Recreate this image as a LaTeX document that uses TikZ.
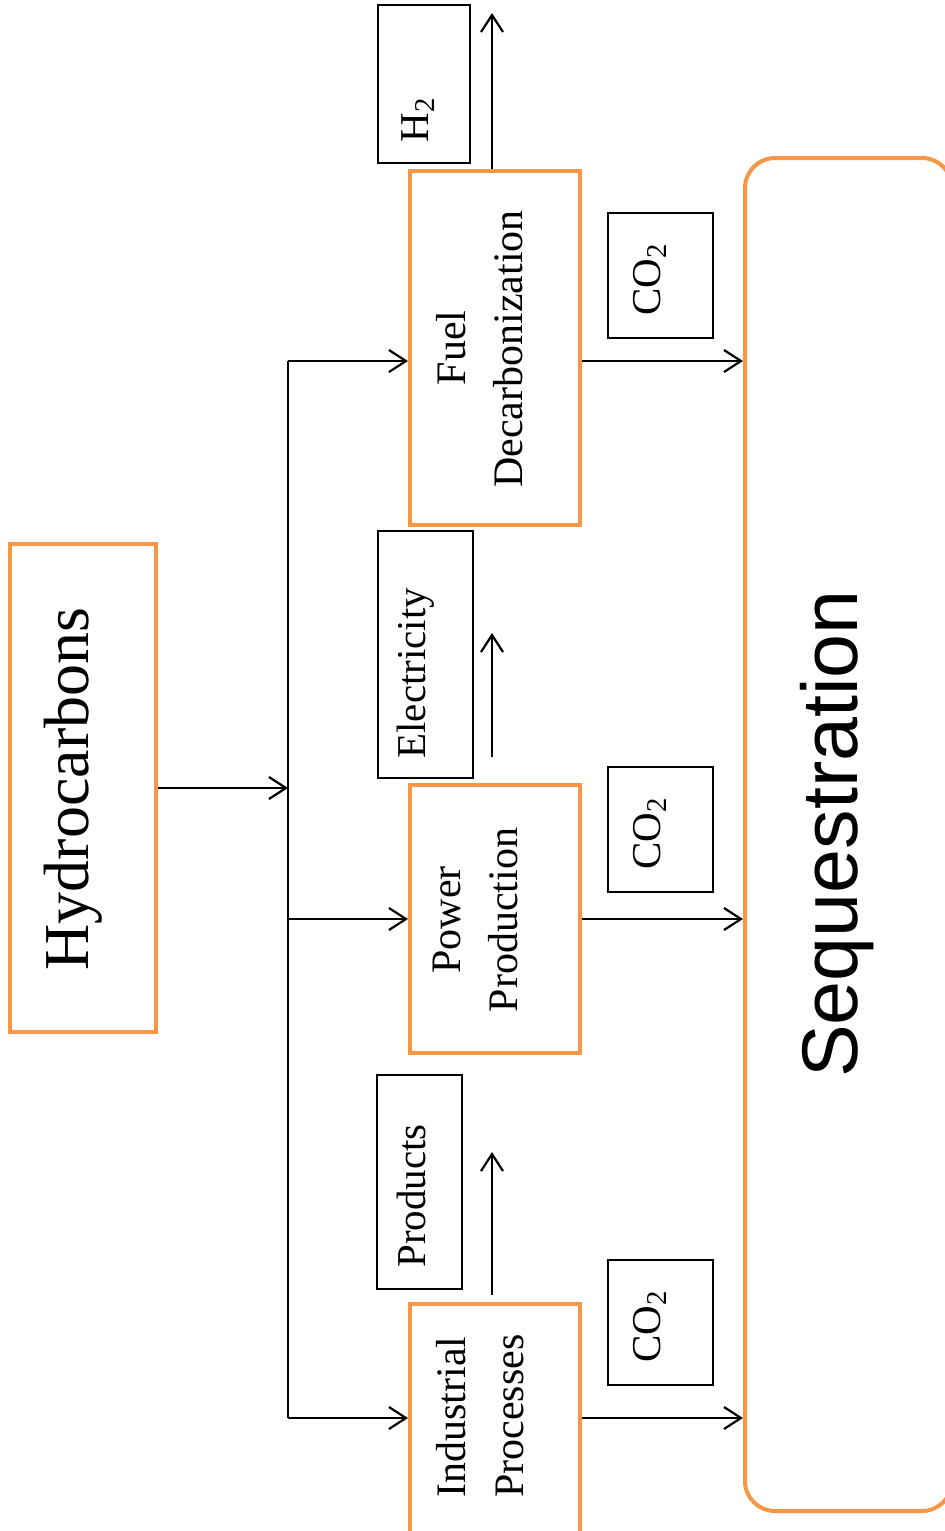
\documentclass[tikz,border=0pt]{standalone}
\usepackage{fontspec}
\setmainfont{Liberation Serif}
\newfontfamily\arialfont{Liberation Sans}
\usetikzlibrary{arrows.meta,fit}
\definecolor{orng}{HTML}{F79646}
\tikzset{
  procbox/.style={draw=orng, line width=2pt, rectangle, inner sep=0pt},
  labbox/.style={draw=black, line width=0.7pt, rectangle, inner sep=0pt},
  flow/.style={line width=1.1pt, -{Straight Barb[length=8.5pt,width=11pt,line width=1.1pt]}},
  rtxt/.style={rotate=90, anchor=base, inner sep=0pt, font=\fontsize{21}{25}\selectfont},
  stxt/.style={rotate=90, anchor=base west, inner sep=0pt, font=\fontsize{20.5}{25}\selectfont},
}
\begin{document}
\begin{tikzpicture}[x=0.5pt,y=-0.5pt]
\useasboundingbox (0,0) rectangle (945,1531);
% main boxes
\node[procbox, fit={(10,544) (156,1032)}] (hydro) {};
\node[procbox, fit={(410,171) (580,525)}] (fuel) {};
\node[procbox, fit={(410,785) (580,1053)}] (power) {};
\node[procbox, fit={(410,1304) (580,1545)}] (ind) {};
\node[procbox, rounded corners=15pt, fit={(745,158) (952,1511)}] (seq) {};
% label boxes
\node[labbox, fit={(378,5) (470,163)}] (h2box) {};
\node[labbox, fit={(378,531) (473,778)}] (elbox) {};
\node[labbox, fit={(377,1075) (462,1289)}] (prbox) {};
\node[labbox, fit={(608,213) (713,338)}] (co2a) {};
\node[labbox, fit={(608,767) (713,892)}] (co2b) {};
\node[labbox, fit={(608,1260) (713,1385)}] (co2c) {};
% texts
\node[rotate=90, anchor=base, inner sep=0pt, font=\fontsize{32}{36}\selectfont] (thydro) at (88,789) {Hydrocarbons};
\node[rotate=90, anchor=base, inner sep=0pt, font=\arialfont\fontsize{39.5}{44}\selectfont] (tseq) at (857,834) {Sequestration};
\node[rtxt] (tfuel1) at (465,348) {Fuel};
\node[rtxt] (tfuel2) at (522,349) {Decarbonization};
\node[rtxt] (tpow1) at (460,920) {Power};
\node[rtxt] (tpow2) at (517,920) {Production};
\node[rtxt] (tind1) at (465,1417) {Industrial};
\node[rtxt] (tind2) at (523,1416) {Processes};
\node[stxt] (th2) at (428,143) {H\textsubscript{2}};
\node[stxt] (tel) at (425,759) {Electricity};
\node[stxt] (tpr) at (425,1268) {Products};
\node[stxt] (tco2a) at (660,316) {CO\textsubscript{2}};
\node[stxt] (tco2b) at (660,870) {CO\textsubscript{2}};
\node[stxt] (tco2c) at (660,1363) {CO\textsubscript{2}};
% bus
\coordinate (bT) at (288,361);
\coordinate (bB) at (288,1418);
\draw[line width=1.1pt] (bT) -- (bB);
\draw[flow] (hydro.east) -- (hydro.east -| bT);
\draw[flow] (bT) -- (bT -| fuel.west);
\draw[flow] (bT |- power.west) -- (power.west);
\draw[flow] (bB) -- (bB -| ind.west);
% to sequestration
\draw[flow] (bT -| fuel.east) -- (bT -| seq.west);
\draw[flow] (power.east) -- (power.east -| seq.west);
\draw[flow] (bB -| ind.east) -- (bB -| seq.west);
% outputs
\coordinate (h2tip) at (492,13);
\draw[flow] (h2tip |- fuel.north) -- (h2tip);
\coordinate (elstart) at (492,757);
\coordinate (eltip) at (492,633);
\draw[flow] (elstart) -- (eltip);
\coordinate (prstart) at (492,1295);
\coordinate (prtip) at (492,1152);
\draw[flow] (prstart) -- (prtip);
\end{tikzpicture}
\end{document}
